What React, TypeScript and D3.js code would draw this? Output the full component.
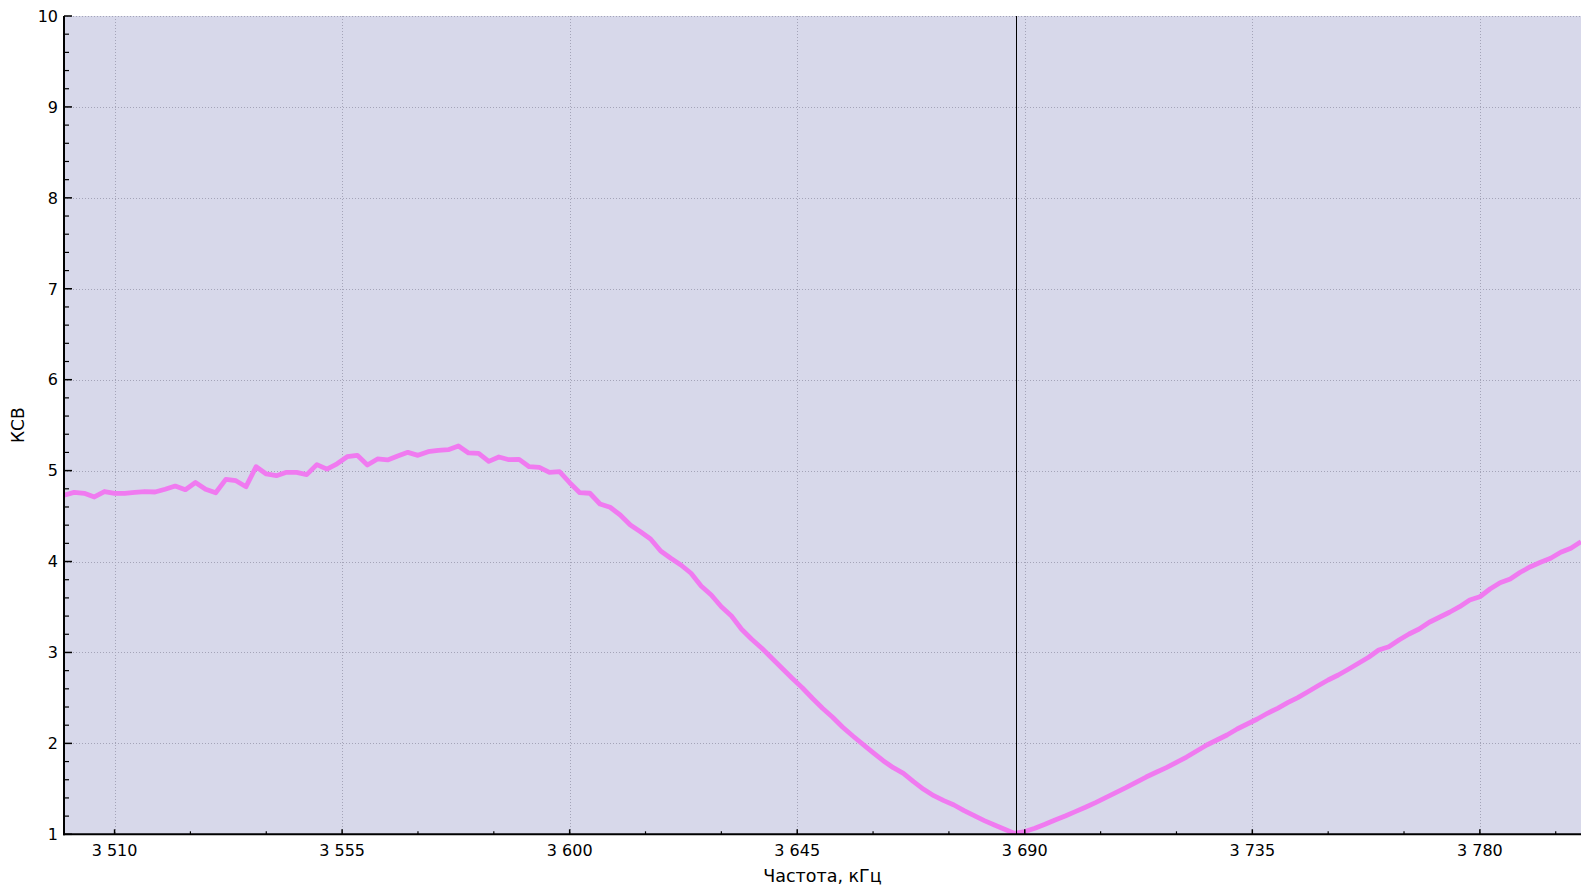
import React from "react";
import * as d3 from "d3";

// Frequency grid, kHz (2 kHz step from 3500 to 3800)
const freqStart = 3500;
const freqStep = 2;
// VSWR readings (КСВ), one per frequency step
const vswr: number[] = [
  4.73, 4.76, 4.75, 4.71, 4.77, 4.75, 4.75, 4.76, 4.77, 4.765,
  4.795, 4.83, 4.79, 4.87, 4.795, 4.757, 4.904, 4.889, 4.823, 5.043,
  4.963, 4.944, 4.981, 4.981, 4.956, 5.066, 5.016, 5.075, 5.153, 5.168,
  5.062, 5.128, 5.117, 5.161, 5.201, 5.168, 5.208, 5.223, 5.23, 5.271,
  5.194, 5.19, 5.102, 5.15, 5.12, 5.124, 5.043, 5.036, 4.981, 4.988,
  4.867, 4.757, 4.751, 4.633, 4.597, 4.512, 4.402, 4.328, 4.248, 4.116,
  4.036, 3.962, 3.871, 3.731, 3.632, 3.503, 3.401, 3.255, 3.145, 3.046,
  2.936, 2.826, 2.716, 2.612, 2.496, 2.386, 2.287, 2.177, 2.081, 1.99,
  1.898, 1.81, 1.733, 1.671, 1.579, 1.495, 1.425, 1.37, 1.322, 1.26,
  1.205, 1.15, 1.102, 1.055, 1.01, 1.03, 1.066, 1.11, 1.157, 1.201,
  1.249, 1.297, 1.348, 1.403, 1.458, 1.513, 1.572, 1.63, 1.682, 1.733,
  1.792, 1.85, 1.916, 1.982, 2.037, 2.092, 2.158, 2.213, 2.268, 2.331,
  2.386, 2.448, 2.503, 2.568, 2.634, 2.697, 2.752, 2.815, 2.881, 2.947,
  3.027, 3.063, 3.137, 3.203, 3.258, 3.332, 3.387, 3.442, 3.503, 3.577,
  3.613, 3.698, 3.767, 3.808, 3.882, 3.943, 3.992, 4.036, 4.102, 4.146,
  4.218,
];
const freqs: number[] = vswr.map((_, i) => freqStart + i * freqStep);

const xDomain = [3500, 3800];
const yDomain = [1, 10];
const xMajorTicks = [3510, 3555, 3600, 3645, 3690, 3735, 3780];
const xMinorTicks = [3525, 3540, 3570, 3585, 3615, 3630, 3660, 3675, 3705, 3720, 3750, 3765, 3795];
const yMajorTicks = [1, 2, 3, 4, 5, 6, 7, 8, 9, 10];
const markerFreq = 3688.2;
const xTitle = "Частота, кГц";
const yTitle = "КСВ";

const W = 1596;
const H = 893;
const left = 64;
const right = 1581;
const top = 16;
const bottom = 834.3;

const locale = d3.formatLocale({ decimal: ",", thousands: " ", grouping: [3], currency: ["", ""] });
const fmt = locale.format(",d");

export default function App() {
  const x = d3.scaleLinear().domain(xDomain).range([left, right]);
  const y = d3.scaleLinear().domain(yDomain).range([bottom, top]);
  const yMinor: number[] = [];
  for (let v = 1; v < 10; v++) for (let j = 1; j < 5; j++) yMinor.push(+(v + j * 0.2).toFixed(1));
  const line = d3
    .line<number>()
    .x((_, i) => x(freqs[i]))
    .y((d) => y(d));
  const font = "'DejaVu Sans', Verdana, sans-serif";
  const px = (v: number) => Math.round(v) + 0.5;
  return (
    <div style={{ position: "fixed", left: 0, top: 0, width: W, height: H, background: "#fff" }}>
      <svg width={W} height={H} style={{ display: "block" }}>
        <defs>
          <clipPath id="plot">
            <rect x={left} y={top} width={right - left} height={bottom - top} />
          </clipPath>
        </defs>
        <rect x={left} y={top} width={right - left} height={bottom - top} fill="#d7d8ea" />
        {xMajorTicks.map((t) => (
          <line key={"gx" + t} x1={px(x(t))} x2={px(x(t))} y1={top} y2={bottom} stroke="#a4a4b8" strokeWidth={1} strokeDasharray="1,2" shapeRendering="crispEdges" />
        ))}
        {yMajorTicks.map((t) => (
          <line key={"gy" + t} x1={left} x2={right} y1={px(y(t))} y2={px(y(t))} stroke="#a4a4b8" strokeWidth={1} strokeDasharray="1,2" shapeRendering="crispEdges" />
        ))}
        <path d={line(vswr) || ""} fill="none" stroke="#f07af0" strokeWidth={4.8} strokeLinejoin="round" clipPath="url(#plot)" />
        <line x1={px(x(markerFreq))} x2={px(x(markerFreq))} y1={top} y2={bottom} stroke="#000" strokeWidth={1} shapeRendering="crispEdges" />
        {/* axes */}
        <line x1={left} x2={left} y1={top} y2={bottom + 1} stroke="#000" strokeWidth={2} />
        <line x1={left - 1} x2={right} y1={bottom} y2={bottom} stroke="#000" strokeWidth={2} />
        {yMajorTicks.map((t) => (
          <line key={"ty" + t} x1={left} x2={left + 8} y1={y(t)} y2={y(t)} stroke="#000" strokeWidth={1.5} />
        ))}
        {yMinor.map((t) => (
          <line key={"tym" + t} x1={left} x2={left + 5} y1={y(t)} y2={y(t)} stroke="#000" strokeWidth={1.2} />
        ))}
        {xMajorTicks.map((t) => (
          <line key={"tx" + t} x1={x(t)} x2={x(t)} y1={bottom} y2={bottom - 5} stroke="#000" strokeWidth={1.5} />
        ))}
        {xMinorTicks.map((t) => (
          <line key={"txm" + t} x1={x(t)} x2={x(t)} y1={bottom} y2={bottom - 3} stroke="#000" strokeWidth={1.2} />
        ))}
        {yMajorTicks.map((t) => (
          <text key={"ly" + t} x={58} y={y(t)} dy="0.36em" textAnchor="end" fontFamily={font} fontSize={16} fill="#000">
            {t}
          </text>
        ))}
        {xMajorTicks.map((t) => (
          <text key={"lx" + t} x={x(t)} y={856} textAnchor="middle" fontFamily={font} fontSize={16} fill="#000">
            {fmt(t)}
          </text>
        ))}
        <text x={(left + right) / 2} y={882} textAnchor="middle" fontFamily={font} fontSize={17.5} fill="#000">
          {xTitle}
        </text>
        <text transform={`translate(23.5,${(top + bottom) / 2}) rotate(-90)`} textAnchor="middle" fontFamily={font} fontSize={17} fill="#000">
          {yTitle}
        </text>
      </svg>
    </div>
  );
}
